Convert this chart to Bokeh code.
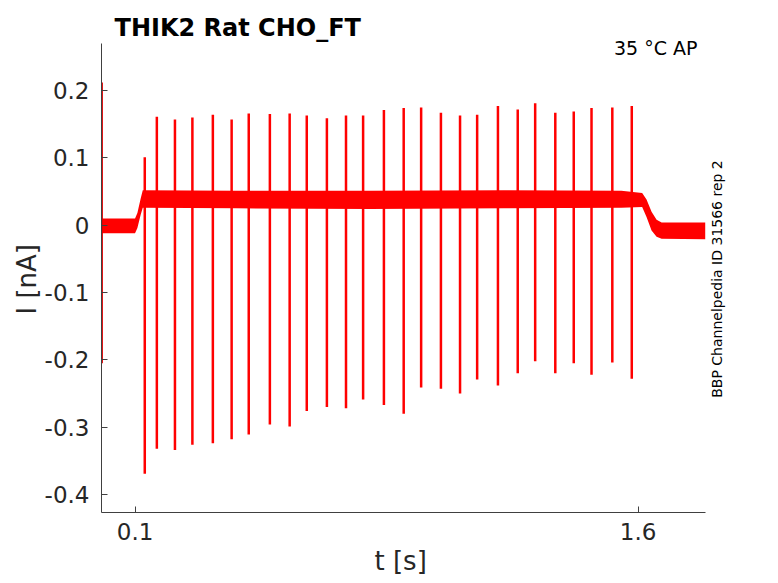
from bokeh.plotting import figure
from bokeh.models import Label, FixedTicker, Range1d, ColumnDataSource, Title
from bokeh.embed import file_html
from bokeh.resources import INLINE
import math

# ---- data ----
x_ticks = [0.1, 1.6]
x_tick_labels = ["0.1", "1.6"]
y_ticks = [-0.4, -0.3, -0.2, -0.1, 0.0, 0.1, 0.2]
y_tick_labels = ["-0.4", "-0.3", "-0.2", "-0.1", "0", "0.1", "0.2"]

# axis limits of the data area
t_lim = (0.0, 1.8)
i_lim = (-0.4267, 0.2698)

# spike times [s], peak and trough currents [nA]
spike_t = [0.129, 0.165, 0.219, 0.271, 0.332, 0.388, 0.439, 0.502, 0.561,
           0.612, 0.672, 0.729, 0.780, 0.842, 0.901, 0.953, 1.012, 1.069,
           1.120, 1.182, 1.241, 1.293, 1.353, 1.408, 1.461, 1.523, 1.581]
spike_peak = [0.101, 0.161, 0.157, 0.160, 0.164, 0.157, 0.166, 0.165, 0.166,
              0.163, 0.159, 0.163, 0.163, 0.171, 0.174, 0.175, 0.167, 0.163,
              0.164, 0.177, 0.172, 0.181, 0.167, 0.169, 0.174, 0.175, 0.177]
spike_trough = [-0.369, -0.332, -0.334, -0.326, -0.324, -0.318, -0.311, -0.296, -0.299,
                -0.276, -0.270, -0.272, -0.259, -0.267, -0.280, -0.241, -0.243, -0.250,
                -0.229, -0.238, -0.220, -0.202, -0.220, -0.205, -0.222, -0.204, -0.228]

# noisy holding-current band (envelope of the recorded trace)
env_t = [0.0, 0.100, 0.107, 0.117, 0.123, 0.40, 0.80, 1.20, 1.55,
         1.612, 1.625, 1.640, 1.655, 1.670, 1.80]
env_hi = [0.010, 0.010, 0.018, 0.040, 0.052, 0.051, 0.051, 0.052, 0.051,
          0.048, 0.038, 0.020, 0.008, 0.004, 0.004]
env_lo = [-0.012, -0.012, -0.004, 0.016, 0.026, 0.025, 0.024, 0.025, 0.026,
          0.027, 0.012, -0.008, -0.017, -0.020, -0.021]

# capacitive transient at the start of the sweep
trans_t = [0.002]
trans_lo = [-0.205]
trans_hi = [0.212]

title_text = "THIK2  Rat  CHO_FT"
cond_text = "35 °C  AP"
side_text = "BBP Channelpedia ID 31566 rep 2"
x_label = "t [s]"
y_label = "I [nA]"

FONT = "DejaVu Sans"
DARK = "#262626"

# frame is extended above and to the right so that the annotation texts
# sit inside it; the axes are bounded to the data limits
PX_T = 335.4      # px per second
PX_I = 673.3      # px per nA
FRAME_L, FRAME_R, FRAME_T, FRAME_B = 101, 735, 0, 512
x_end = t_lim[0] + (FRAME_R - FRAME_L) / PX_T
y_end = i_lim[0] + (FRAME_B - FRAME_T) / PX_I

p = figure(width=778, height=583, output_backend="svg", toolbar_location=None,
           x_range=Range1d(t_lim[0], x_end), y_range=Range1d(i_lim[0], y_end),
           min_border_left=FRAME_L, min_border_right=778 - FRAME_R,
           min_border_top=FRAME_T, min_border_bottom=583 - FRAME_B)
p.outline_line_color = None
p.grid.visible = False
p.background_fill_color = "white"
p.border_fill_color = "white"

band = ColumnDataSource(dict(t=env_t, lo=env_lo, hi=env_hi))
p.varea(x="t", y1="lo", y2="hi", source=band, fill_color="#ff0000")

spikes = ColumnDataSource(dict(t=spike_t, pk=spike_peak, tr=spike_trough))
p.segment(x0="t", y0="tr", x1="t", y1="pk", source=spikes,
          line_color="#ff0000", line_width=2.5)

trans = ColumnDataSource(dict(t=trans_t, lo=trans_lo, hi=trans_hi))
p.segment(x0="t", y0="lo", x1="t", y1="hi", source=trans,
          line_color="#e00000", line_width=1.5)

for ax in (p.xaxis, p.yaxis):
    ax.axis_line_color = "#404040"
    ax.axis_line_width = 1
    ax.major_tick_line_color = "#404040"
    ax.major_tick_in = 6
    ax.major_tick_out = 0
    ax.minor_tick_in = 0
    ax.minor_tick_out = 0
    ax.major_label_text_font = FONT
    ax.major_label_text_font_size = "23px"
    ax.major_label_text_color = DARK

p.xaxis.bounds = t_lim
p.xaxis.ticker = FixedTicker(ticks=x_ticks)
p.xaxis.major_label_overrides = dict(zip(x_ticks, x_tick_labels))
p.xaxis.major_label_standoff = 10

p.yaxis.bounds = i_lim
p.yaxis.ticker = FixedTicker(ticks=y_ticks)
p.yaxis.major_label_overrides = dict(zip(y_ticks, y_tick_labels))
p.yaxis.major_label_standoff = 12

# axis titles, positioned along the bounded axes
p.add_layout(Title(text=x_label, align="left", offset=273, vertical_align="bottom",
                   standoff=2, text_font=FONT, text_font_size="26px",
                   text_font_style="normal", text_color=DARK), "below")
p.add_layout(Title(text=y_label, align="left", offset=198, vertical_align="bottom",
                   standoff=0, text_font=FONT, text_font_size="26px",
                   text_font_style="normal", text_color=DARK), "left")

p.add_layout(Label(x=0.0388, y=0.2936, text=title_text, text_font=FONT,
                   text_font_size="24px", text_font_style="bold",
                   text_color="black", text_baseline="alphabetic",
                   text_align="left"))
p.add_layout(Label(x=1.7949, y=0.2639, text=cond_text, text_font=FONT,
                   text_font_size="19px", text_color="black",
                   text_baseline="alphabetic", text_align="right"))
p.add_layout(Label(x=1.8366, y=-0.0799, text=side_text, text_font=FONT,
                   text_font_size="14px", text_color="black",
                   text_baseline="middle", text_align="center",
                   angle=math.pi / 2))

open("out.html", "w").write(file_html(p, INLINE))
